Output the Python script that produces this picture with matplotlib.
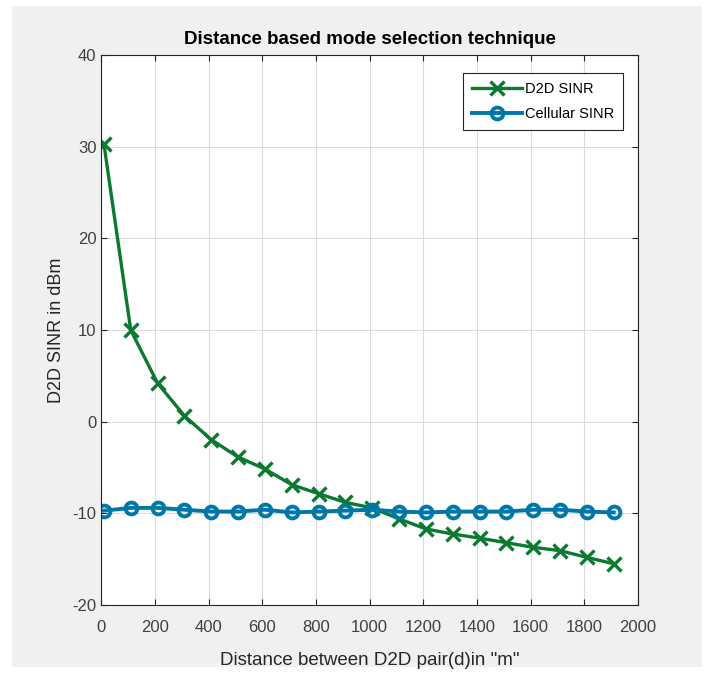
import matplotlib
matplotlib.use("Agg")
import matplotlib.pyplot as plt
from matplotlib.patches import Rectangle

# distance between the D2D pair (m)
distance = [10, 110, 210, 310, 410, 510, 610, 710, 810, 910,
            1010, 1110, 1210, 1310, 1410, 1510, 1610, 1710, 1810, 1910]
# SINR values (dBm)
d2d_sinr = [30.3, 10.0, 4.2, 0.65, -1.96, -3.85, -5.16, -6.87, -7.85, -8.8,
            -9.4, -10.6, -11.7, -12.25, -12.7, -13.2, -13.7, -14.07, -14.8, -15.5]
cellular_sinr = [-9.7, -9.4, -9.4, -9.6, -9.8, -9.8, -9.6, -9.9, -9.8, -9.7,
                 -9.6, -9.8, -9.9, -9.8, -9.8, -9.8, -9.6, -9.6, -9.8, -9.9]

xticks = list(range(0, 2001, 200))
yticks = list(range(-20, 41, 10))

plt.rcParams['font.family'] = ['Liberation Sans', 'DejaVu Sans']
plt.rcParams['axes.unicode_minus'] = False

green = '#0b7a30'
blue = '#0077a8'

fig = plt.figure(figsize=(7.08, 6.73), dpi=100)
fig.patch.set_facecolor('white')
# grey panel behind the axes
fig.patches.append(Rectangle((12 / 708, 6 / 673), 690 / 708, 661 / 673,
                             transform=fig.transFigure, facecolor='#f0f0f0',
                             edgecolor='none', zorder=-10))

ax = fig.add_axes([0.143, 0.101, 0.758, 0.817])
ax.set_facecolor('white')

ax.plot(distance, d2d_sinr, color=green, lw=2.4, marker='x', ms=10, mew=2.4,
        label='D2D SINR')
ax.plot(distance, cellular_sinr, color=blue, lw=2.8, marker='o', ms=8.5,
        mew=2.8, mfc='none', label='Cellular SINR')

ax.set_xlim(0, 2000)
ax.set_ylim(-20, 40)
ax.set_xticks(xticks)
ax.set_yticks(yticks)
ax.grid(True, color='#dcdcdc', lw=0.8)
ax.set_axisbelow(True)
ax.tick_params(direction='in', length=4, labelsize=12, colors='#262626',
               labelcolor='#404040', top=True, right=True,
               labeltop=False, labelright=False)
ax.tick_params(axis='x', pad=11)
for s in ax.spines.values():
    s.set_color('#262626')
    s.set_linewidth(0.8)

ax.set_title('Distance based mode selection technique', fontsize=13.5,
             fontweight='bold', pad=8)
ax.set_xlabel('Distance between D2D pair(d)in "m"', fontsize=13.5,
              color='#262626', labelpad=12)
ax.set_ylabel('D2D SINR in dBm', fontsize=13, color='#262626', labelpad=5)

leg = ax.legend(loc='upper right', bbox_to_anchor=(0.985, 0.98),
                fontsize=10.5, fancybox=False, framealpha=1,
                edgecolor='#262626', handlelength=3.4, borderpad=0.6,
                labelspacing=0.75, handletextpad=0.2)
leg.get_frame().set_linewidth(0.8)

fig.savefig('out.png', dpi=100)
